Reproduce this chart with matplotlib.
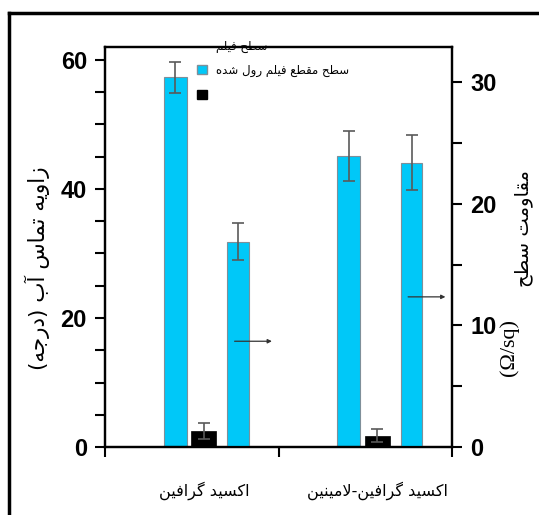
import matplotlib
matplotlib.use('Agg')
import matplotlib.pyplot as plt
from matplotlib.patches import Patch
from matplotlib.lines import Line2D
from matplotlib.ticker import MultipleLocator

# --- DATA ---
categories = ['اکسید گرافین', 'اکسید گرافین-لامینین']
angle_cyan = [57.3, 45.1]        # left axis, cross-section of rolled film
angle_cyan_err = [2.4, 3.9]
angle_black = [2.5, 1.75]        # left axis, film surface
angle_black_err = [1.3, 1.0]
resistance = [16.9, 23.4]        # right axis, sheet resistance
resistance_err = [1.5, 2.3]
arrow_level = [8.7, 12.35]       # right axis value where the arrows sit

left_label = 'زاویه تماس آب (درجه)'
right_label = 'مقاومت سطح'
right_unit = '(Ω/sq)'
legend_labels = ['سطح فیلم', 'سطح مقطع فیلم رول شده']

# --- Persian shaping (matplotlib has no complex text layout) ---
# isolated, final, initial, medial
FORMS = {
    'ا': ('\uFE8D', '\uFE8E', None, None),
    'آ': ('\uFE81', '\uFE82', None, None),
    'ب': ('\uFE8F', '\uFE90', '\uFE91', '\uFE92'),
    'ت': ('\uFE95', '\uFE96', '\uFE97', '\uFE98'),
    'ج': ('\uFE9D', '\uFE9E', '\uFE9F', '\uFEA0'),
    'ح': ('\uFEA1', '\uFEA2', '\uFEA3', '\uFEA4'),
    'د': ('\uFEA9', '\uFEAA', None, None),
    'ر': ('\uFEAD', '\uFEAE', None, None),
    'ز': ('\uFEAF', '\uFEB0', None, None),
    'س': ('\uFEB1', '\uFEB2', '\uFEB3', '\uFEB4'),
    'ش': ('\uFEB5', '\uFEB6', '\uFEB7', '\uFEB8'),
    'ط': ('\uFEC1', '\uFEC2', '\uFEC3', '\uFEC4'),
    'ع': ('\uFEC9', '\uFECA', '\uFECB', '\uFECC'),
    'ف': ('\uFED1', '\uFED2', '\uFED3', '\uFED4'),
    'ق': ('\uFED5', '\uFED6', '\uFED7', '\uFED8'),
    'ل': ('\uFEDD', '\uFEDE', '\uFEDF', '\uFEE0'),
    'م': ('\uFEE1', '\uFEE2', '\uFEE3', '\uFEE4'),
    'ن': ('\uFEE5', '\uFEE6', '\uFEE7', '\uFEE8'),
    'ه': ('\uFEE9', '\uFEEA', '\uFEEB', '\uFEEC'),
    'و': ('\uFEED', '\uFEEE', None, None),
    'ک': ('\uFB8E', '\uFB8F', '\uFB90', '\uFB91'),
    'گ': ('\uFB92', '\uFB93', '\uFB94', '\uFB95'),
    'ی': ('\uFBFC', '\uFBFD', '\uFBFE', '\uFBFF'),
}
LAM_ALEF = {'ا': ('\uFEFB', '\uFEFC'), 'آ': ('\uFEF5', '\uFEF6')}


def fa(text):
    chars = list(text)
    n = len(chars)
    out = []
    i = 0
    while i < n:
        c = chars[i]
        if c not in FORMS:
            out.append(c)
            i += 1
            continue
        prev = chars[i - 1] if i > 0 else None
        nxt = chars[i + 1] if i + 1 < n else None
        jp = prev in FORMS and FORMS[prev][2] is not None
        if c == 'ل' and nxt in LAM_ALEF:
            out.append(LAM_ALEF[nxt][1 if jp else 0])
            i += 2
            continue
        jn = nxt in FORMS and FORMS[c][2] is not None
        iso, fin, ini, med = FORMS[c]
        if jp and jn:
            out.append(med)
        elif jp:
            out.append(fin)
        elif jn:
            out.append(ini)
        else:
            out.append(iso)
        i += 1
    mirror = {'(': ')', ')': '('}
    return ''.join(mirror.get(ch, ch) for ch in reversed(out))


fa_font = 'DejaVu Sans'
num_font = 'Liberation Sans'

fig = plt.figure(figsize=(5.39, 5.15), dpi=100)
ax = fig.add_axes([0.1948, 0.132, 0.6438, 0.7767])
ax2 = ax.twinx()

cyan = '#00C8F8'
x = [0.57, 1.57]
x_c1 = [v - 0.165 for v in x]
x_c2 = [v + 0.197 for v in x]

ekw = dict(ecolor='#5a5a5a', elinewidth=1.2, capsize=4, capthick=1.2)
ax.bar(x_c1, angle_cyan, width=0.135, color=cyan, edgecolor='#7f8f99', linewidth=0.8,
       yerr=angle_cyan_err, error_kw=ekw, zorder=2)
ax.bar(x, angle_black, width=0.145, color='black', edgecolor='black', linewidth=0.5,
       yerr=angle_black_err, error_kw=ekw, zorder=2)
ax2.bar(x_c2, resistance, width=0.125, color=cyan, edgecolor='#7f8f99', linewidth=0.8,
        yerr=resistance_err, error_kw=ekw, zorder=2)

for xi, lvl in zip(x_c2, arrow_level):
    ax2.annotate('', xy=(xi + 0.195, lvl), xytext=(xi - 0.02, lvl),
                 arrowprops=dict(arrowstyle='-|>', color='#333333', lw=0.9,
                                 mutation_scale=6, shrinkA=0, shrinkB=0))

ax.set_xlim(0, 2)
ax.set_ylim(0, 62)
ax2.set_ylim(0, 32.9)

ax.set_xticks([0, 1, 2])
ax.set_xticklabels([])
ax.set_xticks(x, [fa(c) for c in categories], minor=True)
ax.tick_params(axis='x', which='minor', length=0, pad=25, labelsize=11.5)
for lab in ax.get_xticklabels(minor=True):
    lab.set_fontfamily(fa_font)
ax.tick_params(axis='x', which='major', direction='out', length=7, width=1.5)

ax.set_yticks([0, 20, 40, 60])
ax.yaxis.set_minor_locator(MultipleLocator(5))
ax.tick_params(axis='y', which='both', direction='out', length=7, width=1.5,
               labelsize=17, pad=6)
ax2.set_yticks([0, 10, 20, 30])
ax2.yaxis.set_minor_locator(MultipleLocator(5))
ax2.tick_params(axis='y', which='both', direction='out', length=7, width=1.5,
                labelsize=17, pad=6)
for a in (ax, ax2):
    for lab in a.get_yticklabels():
        lab.set_fontfamily(num_font)
        lab.set_fontweight('bold')
    for sp in a.spines.values():
        sp.set_linewidth(1.6)

fig.text(0.07, 0.48, fa(left_label), rotation=90, ha='center', va='center',
         fontsize=15.5, family=fa_font)
fig.text(0.972, 0.557, fa(right_label), rotation=90, ha='center', va='center',
         fontsize=14, family=fa_font)
fig.text(0.945, 0.326, right_unit, rotation=90, ha='center', va='center',
         fontsize=16, family='Liberation Serif')

# legend, drawn loosely like the original
handles = [Patch(facecolor='none', edgecolor='none'),
           Patch(facecolor=cyan, edgecolor='#7f8f99'),
           Patch(facecolor='black', edgecolor='black')]
leg = ax.legend(handles, [fa(legend_labels[0]), fa(legend_labels[1]), ''],
                loc='upper left', bbox_to_anchor=(0.235, 1.045), frameon=False,
                handlelength=0.8, handleheight=0.8, handletextpad=0.8,
                labelspacing=0.95, prop={'family': fa_font, 'size': 8.5})
leg.set_zorder(5)

# outer frame around the picture (cut off on the right and bottom)
fig.add_artist(Line2D([0.017, 0.017], [0, 0.975], color='black', lw=2.5))
fig.add_artist(Line2D([0.017, 1.0], [0.975, 0.975], color='black', lw=2.5))

plt.savefig('out.png', dpi=100)
